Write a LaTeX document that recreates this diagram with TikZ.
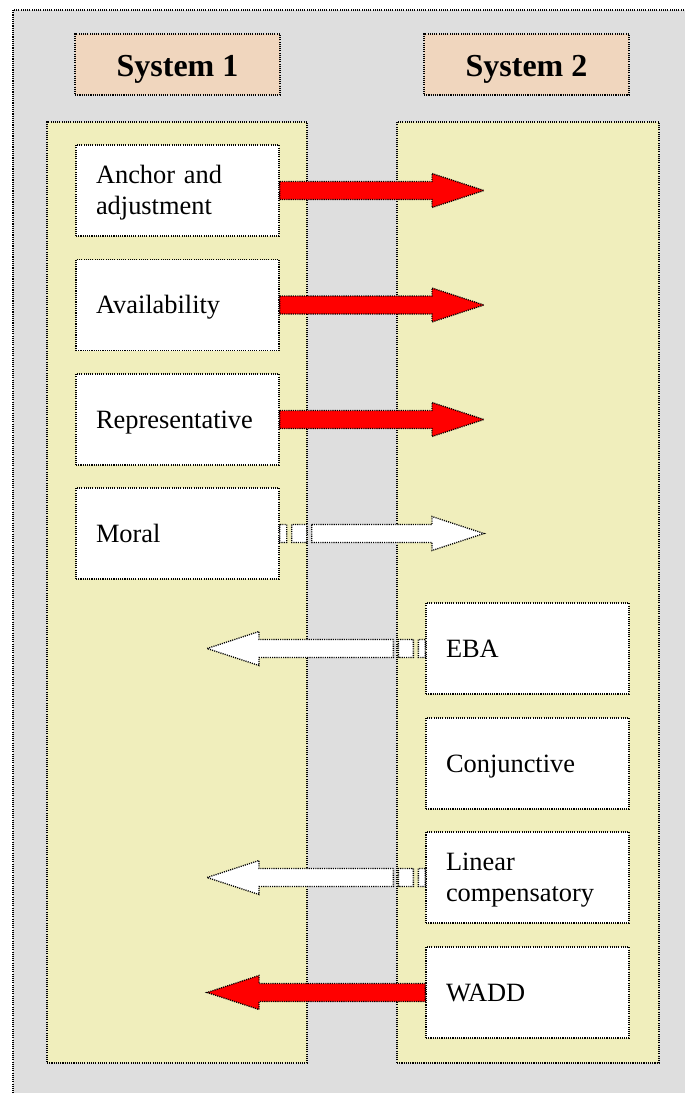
\documentclass[tikz,border=0pt]{standalone}
\usepackage{fontspec}
\setmainfont{Liberation Serif}
\usetikzlibrary{calc}

\definecolor{bggray}{RGB}{222,222,222}
\definecolor{panelfill}{RGB}{240,238,188}
\definecolor{headerfill}{RGB}{240,214,190}
\definecolor{arrowred}{RGB}{255,0,0}

% Block arrow from #2 (start) to #3 (tip), horizontal
\newcommand\blockarrow[3][]{%
  \path[arrowline,#1] let \p1=(#2), \p2=(#3), \n1={sign(\x2-\x1)} in
    (\x1,{\y1+4.5pt}) -- ({\x2-\n1*26pt},{\y1+4.5pt}) -- ({\x2-\n1*26pt},{\y1+8.5pt})
    -- (\x2,\y1) -- ({\x2-\n1*26pt},{\y1-8.5pt}) -- ({\x2-\n1*26pt},{\y1-4.5pt})
    -- (\x1,{\y1-4.5pt}) -- cycle;}

% Block arrow with two stripes at its tail
\newcommand\stripedarrow[3][]{%
  \path[arrowline,#1] let \p1=(#2), \p2=(#3), \n1={sign(\x2-\x1)} in
    (\x1,{\y1+4.5pt}) rectangle ({\x1+\n1*3.5pt},{\y1-4.5pt})
    ({\x1+\n1*6pt},{\y1+4.5pt}) rectangle ({\x1+\n1*13.5pt},{\y1-4.5pt})
    ({\x1+\n1*16pt},{\y1+4.5pt}) -- ({\x2-\n1*26pt},{\y1+4.5pt}) -- ({\x2-\n1*26pt},{\y1+8.5pt})
    -- (\x2,\y1) -- ({\x2-\n1*26pt},{\y1-8.5pt}) -- ({\x2-\n1*26pt},{\y1-4.5pt})
    -- ({\x1+\n1*16pt},{\y1-4.5pt}) -- cycle;}

\begin{document}
\begin{tikzpicture}[x=0.5pt,y=-0.5pt,
  dots/.style={draw=black, line width=0.65pt, dash pattern=on 0.55pt off 0.55pt},
  arrowline/.style={dots, fill=white},
  redarrow/.style={fill=arrowred},
  panel/.style={dots, fill=panelfill, minimum height=470.5pt, inner sep=0pt},
  header/.style={dots, fill=headerfill, minimum width=102.5pt, minimum height=30.5pt,
    inner sep=0pt, font=\fontsize{16}{19}\selectfont\bfseries,
    execute at begin node={\rule[-3.5pt]{0pt}{18.5pt}}},
  method/.style={dots, fill=white, minimum width=101.5pt, minimum height=45.5pt,
    text width=81.5pt, inner xsep=10pt, inner ysep=0pt, align=left,
    font=\fontsize{13.2}{15.5}\selectfont,
    execute at begin node={\rule[-3pt]{0pt}{14.5pt}}}]
\useasboundingbox (0,0) rectangle (685,1093);
\clip (0,0) rectangle (685,1093);

% background sheet
\path[dots, fill=bggray] (13,10) rectangle (720,1130);

% system panels
\node[panel, minimum width=130pt] (p1) at (177,592.5) {};
\node[panel, minimum width=131pt] (p2) at (528,592.5) {};

% headers
\node[header] (h1) at (177.5,64.5) {System 1};
\node[header] (h2) at (526.5,64.5) {System 2};

% System 1 heuristics
\node[method] (anchor) at (177.5,190.5) {Anchor and\\adjustment};
\node[method] (avail)  at (177.5,305)   {Availability};
\node[method] (repr)   at (177.5,419.5) {Representative};
\node[method] (moral)  at (177.5,533.5) {Moral};

% System 2 strategies
\node[method] (eba)    at (527.5,648.5) {EBA};
\node[method] (conj)   at (527.5,763.5) {Conjunctive};
\node[method] (linear) at (527.5,877.5) {Linear\\compensatory};
\node[method] (wadd)   at (527.5,992.5) {WADD};

% arrow tips
\coordinate (t1) at (484,190.5);
\coordinate (t2) at (484,305);
\coordinate (t3) at (484,419.5);
\coordinate (t4) at (484,533.5);
\coordinate (t5) at (207,648.5);
\coordinate (t6) at (207,877.5);
\coordinate (t7) at (207,992.5);

% arrows
\blockarrow[redarrow]{anchor.east}{t1}
\blockarrow[redarrow]{avail.east}{t2}
\blockarrow[redarrow]{repr.east}{t3}
\stripedarrow{moral.east}{t4}
\stripedarrow{eba.west}{t5}
\stripedarrow{linear.west}{t6}
\blockarrow[redarrow]{wadd.west}{t7}
\end{tikzpicture}
\end{document}
